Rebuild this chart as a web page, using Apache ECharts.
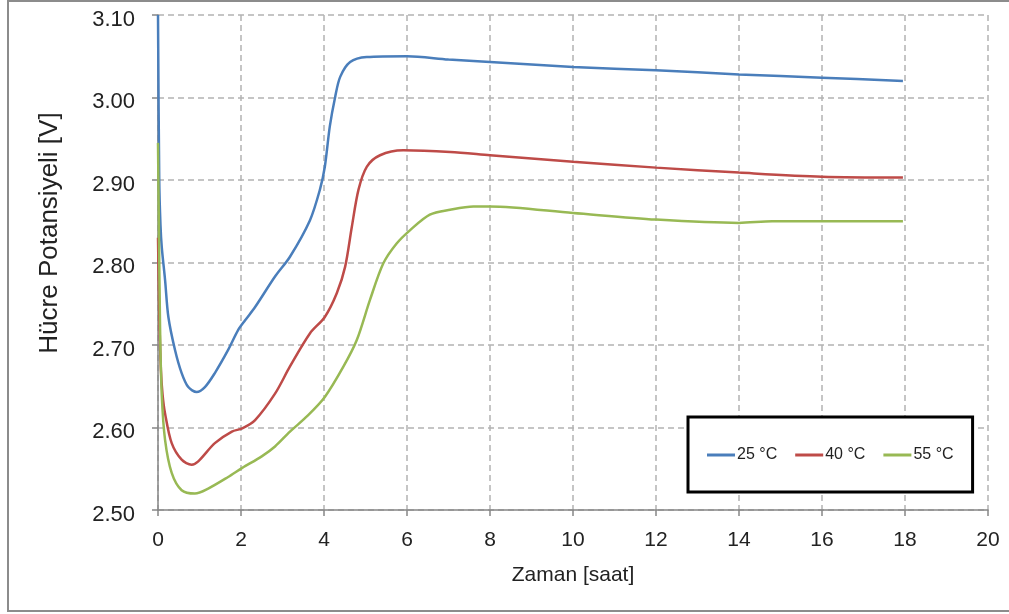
<!DOCTYPE html>
<html>
<head>
<meta charset="utf-8">
<script src="https://cdn.jsdelivr.net/npm/echarts@6/dist/echarts.min.js"></script>
<style>
  html, body { margin: 0; padding: 0; background: #fff; }
  #chart { width: 1009px; height: 614px; }
</style>
</head>
<body>
<div id="chart"></div>
<script>
// values (time in hours, potential in V)
const seriesNames = ['25 °C', '40 °C', '55 °C'];
const xTicks = [0, 2, 4, 6, 8, 10, 12, 14, 16, 18, 20];
const yTicks = [2.5, 2.6, 2.7, 2.8, 2.9, 3.0, 3.1];

const t25 = [0, 0.03, 0.06, 0.09, 0.17, 0.25, 0.41, 0.57, 0.73, 0.93, 1.13, 1.37, 1.69, 1.93, 2.1, 2.34, 2.82, 3.18, 3.66, 3.9, 4.02, 4.14, 4.27, 4.39, 4.63, 5.03, 6, 7, 8, 10, 12, 14, 16, 17.95];
const v25 = [3.10, 2.90, 2.845, 2.819, 2.779, 2.734, 2.694, 2.666, 2.649, 2.643, 2.649, 2.666, 2.694, 2.718, 2.730, 2.746, 2.783, 2.807, 2.851, 2.888, 2.916, 2.965, 3.001, 3.025, 3.043, 3.049, 3.050, 3.046, 3.043, 3.037, 3.033, 3.028, 3.024, 3.020];

const t40 = [0, 0.03, 0.07, 0.11, 0.17, 0.33, 0.57, 0.81, 0.97, 1.37, 1.78, 2.03, 2.34, 2.82, 3.18, 3.66, 4.02, 4.31, 4.51, 4.67, 4.83, 5.03, 5.35, 5.91, 7.04, 8, 10, 12, 14, 16, 17.95];
const v40 = [2.83, 2.74, 2.67, 2.64, 2.617, 2.581, 2.561, 2.555, 2.559, 2.581, 2.595, 2.599, 2.609, 2.641, 2.674, 2.714, 2.734, 2.763, 2.795, 2.843, 2.888, 2.916, 2.930, 2.936, 2.934, 2.930, 2.922, 2.915, 2.909, 2.904, 2.903];

const t55 = [0, 0.02, 0.05, 0.09, 0.17, 0.33, 0.57, 0.89, 1.21, 1.69, 2.03, 2.5, 2.82, 3.18, 3.6, 4.02, 4.47, 4.79, 5.11, 5.43, 5.75, 6.07, 6.55, 7.04, 7.6, 8, 10, 12, 14, 14.8, 17.95];
const v55 = [2.945, 2.85, 2.72, 2.64, 2.585, 2.545, 2.524, 2.520, 2.526, 2.540, 2.551, 2.565, 2.577, 2.595, 2.614, 2.637, 2.674, 2.706, 2.755, 2.799, 2.823, 2.839, 2.858, 2.864, 2.868, 2.868, 2.860, 2.852, 2.848, 2.850, 2.850];

const colors = ['#4a7ebb', '#be4b48', '#98b954'];

let zip = (ts, vs) => ts.map((t, i) => [t, vs[i]]);
let allData = [zip(t25, v25), zip(t40, v40), zip(t55, v55)];

let chart = echarts.init(document.getElementById('chart'));
let font = '"Liberation Sans", Arial, sans-serif';

chart.setOption({
  animation: false,
  backgroundColor: '#fff',
  color: colors,
  grid: { left: 158, right: 21, top: 15, bottom: 104 },
  graphic: [
    {
      type: 'rect',
      shape: { x: 8, y: 1, width: 1020, height: 610 },
      style: { fill: 'none', stroke: '#8c8c8c', lineWidth: 2 },
      silent: true,
    },
    {
      type: 'text',
      x: 50,
      y: 233,
      rotation: Math.PI / 2,
      style: {
        text: 'Hücre Potansiyeli [V]',
        font: '26px ' + font,
        fill: '#222',
        textAlign: 'center',
        textVerticalAlign: 'middle',
      },
    },
  ],
  legend: {
    data: seriesNames,
    icon: 'rect',
    left: 688,
    top: 417,
    padding: [30, 19, 29, 19],
    itemWidth: 28,
    itemHeight: 3,
    itemGap: 18,
    backgroundColor: '#fff',
    borderColor: '#000',
    borderWidth: 3,
    borderRadius: 0,
    textStyle: { fontFamily: font, fontSize: 16, color: '#222', padding: [2, 0, 0, -3] },
  },
  xAxis: {
    type: 'value',
    min: xTicks[0],
    max: xTicks[xTicks.length - 1],
    interval: 2,
    name: 'Zaman [saat]',
    nameLocation: 'middle',
    nameGap: 55,
    nameTextStyle: { fontFamily: font, fontSize: 21, color: '#222' },
    axisLine: { show: true, lineStyle: { color: '#868686', width: 1.5 } },
    axisTick: { show: true, length: 6, lineStyle: { color: '#868686', width: 1.5 } },
    axisLabel: { fontFamily: font, fontSize: 21, color: '#222', margin: 20 },
    splitLine: { show: true, lineStyle: { color: '#b3b3b3', width: 1.5, type: [6, 4] } },
  },
  yAxis: {
    type: 'value',
    min: yTicks[0],
    max: yTicks[yTicks.length - 1],
    interval: 0.1,
    axisLine: { show: true, lineStyle: { color: '#868686', width: 1.5 } },
    axisTick: { show: true, length: 6, lineStyle: { color: '#868686', width: 1.5 } },
    axisLabel: {
      margin: 23,
      formatter: (v) => '{a|' + v.toFixed(2) + '}',
      rich: {
        a: { fontFamily: font, fontSize: 22, color: '#222', padding: [9, 0, 0, 0] },
      },
    },
    splitLine: { show: true, lineStyle: { color: '#b3b3b3', width: 1.5, type: [6, 4] } },
  },
  series: seriesNames.map((name, i) => ({
    name: name,
    type: 'line',
    data: allData[i],
    symbol: 'none',
    smooth: 0.3,
    lineStyle: { width: 2.5, color: colors[i] },
  })),
});
</script>
</body>
</html>
